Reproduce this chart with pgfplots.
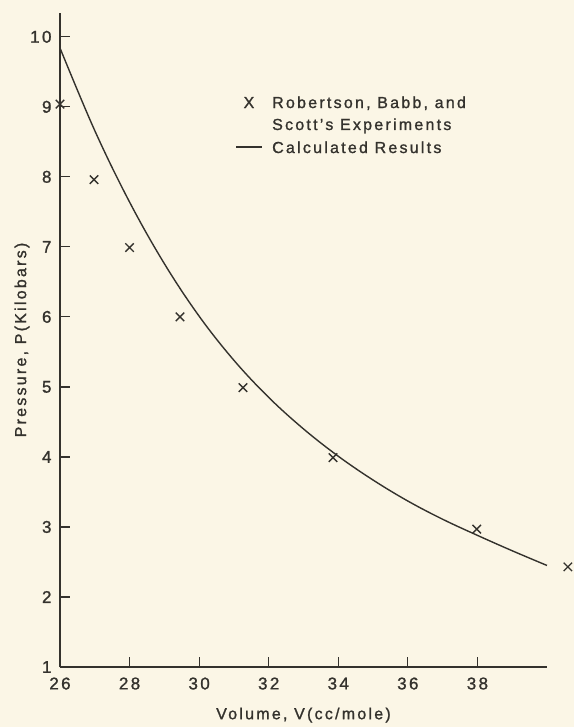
\documentclass[border=0pt]{standalone}
\usepackage{fontspec}
\setmainfont{Liberation Sans}[LetterSpace=14, FakeBold=1.2]
\usepackage{pgfplots}
\pgfplotsset{compat=1.18}
\definecolor{paper}{RGB}{251,246,230}
\definecolor{ink}{RGB}{52,50,45}
\begin{document}
\begin{tikzpicture}
\fill[paper] (-60bp,-60bp) rectangle (514bp,667bp);
\begin{axis}[
  scale only axis,
  width=487bp, height=654bp,
  xmin=26, xmax=40, ymin=1, ymax=10.34,
  axis lines=left,
  axis line style={-, line width=1.3bp, ink},
  xtick={26,28,...,38},
  ytick={1,2,...,10},
  tick align=inside,
  major tick length=10bp,
  tick style={line width=1.2bp, ink},
  clip=false,
  /pgf/number format/assume math mode=true,
  tick label style={font=\fontsize{17bp}{19bp}\selectfont, text=ink},
  xticklabel style={yshift=-7bp},
  yticklabel style={xshift=-5bp},
  xlabel={Volume, V(cc/mole)},
  ylabel={Pressure, P(Kilobars)},
  label style={font=\fontsize{16bp}{18bp}\selectfont, text=ink},
  xlabel style={at={(axis description cs:0.5,-0.0735)}, anchor=center},
  ylabel style={at={(axis description cs:-0.078,0.5)}, anchor=center},
]
\addplot[ink, line width=1.4bp, smooth, tension=0.6] coordinates {
  (26,9.84) (27,8.66) (28,7.64) (29,6.76) (30,6.01) (31,5.38) (32,4.85)
  (33,4.40) (34,4.01) (35,3.67) (36,3.37) (37,3.11) (38,2.88) (39,2.66) (40,2.45)
};
\addplot[only marks, mark=x, mark size=6bp, mark options={line width=1.4bp, ink}] coordinates {
  (26,9.04) (26.98,7.96) (28.0,6.99) (29.45,6.0) (31.26,4.99) (33.85,3.99) (37.98,2.97) (40.6,2.43)
};
\node[anchor=base, font=\fontsize{16bp}{18bp}\selectfont, text=ink, inner sep=0pt] at (rel axis cs:0.388,0.8547) {X};
\node[anchor=base west, font=\fontsize{16bp}{18bp}\selectfont, text=ink, inner sep=0pt] at (rel axis cs:0.4353,0.8547) {Robertson, Babb, and};
\node[anchor=base west, font=\fontsize{16bp}{18bp}\selectfont, text=ink, inner sep=0pt] at (rel axis cs:0.4353,0.8211) {Scott's Experiments};
\node[anchor=base west, font=\fontsize{16bp}{18bp}\selectfont, text=ink, inner sep=0pt] at (rel axis cs:0.4353,0.7859) {Calculated Results};
\draw[ink, line width=1.4bp] (rel axis cs:0.3614,0.7951) -- (rel axis cs:0.4148,0.7951);
\end{axis}
\end{tikzpicture}
\end{document}
